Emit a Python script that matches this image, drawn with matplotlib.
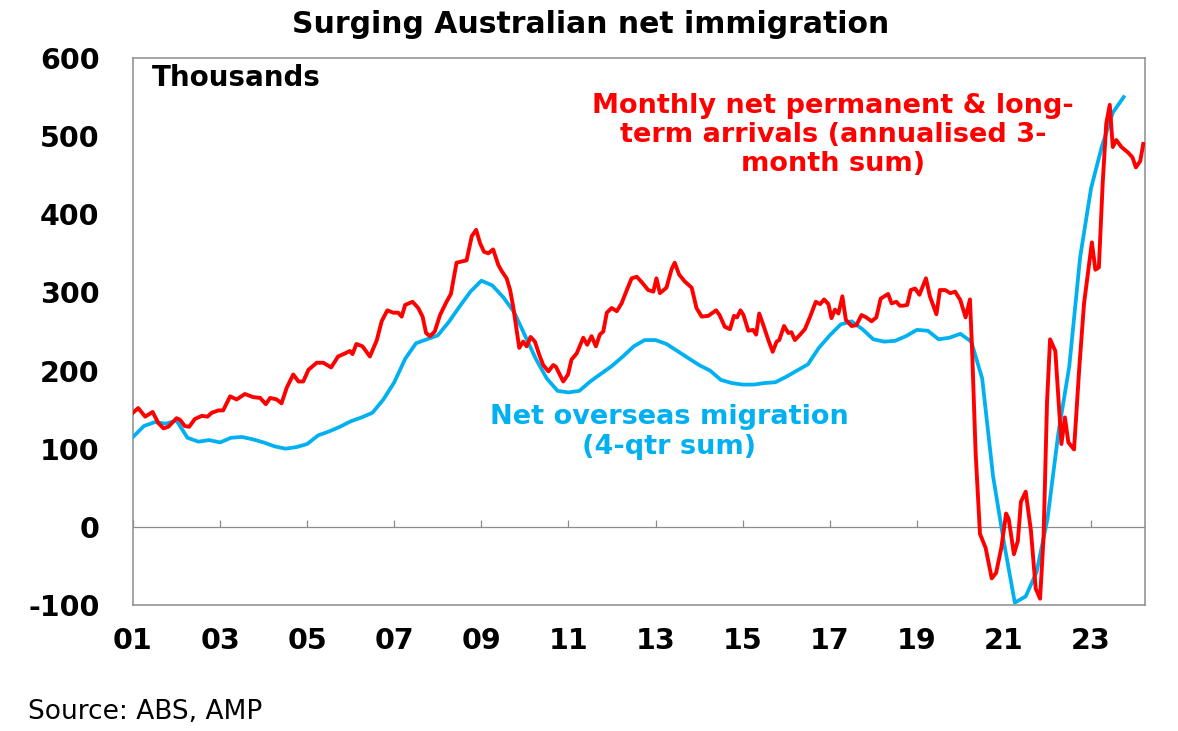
import numpy as np
import matplotlib
matplotlib.use("Agg")
import matplotlib.pyplot as plt

plt.rcParams["axes.unicode_minus"] = False

# ---------------------------------------------------------------------------
# Data (thousands)
# ---------------------------------------------------------------------------

# Monthly net permanent & long-term arrivals (annualised 3-month sum)
arrivals_year = [
    2001.00, 2001.12, 2001.28, 2001.45, 2001.58, 2001.70, 2001.81, 2002.00,
    2002.08, 2002.19, 2002.29, 2002.42, 2002.58, 2002.71, 2002.81, 2002.96,
    2003.07, 2003.23, 2003.38, 2003.57, 2003.76, 2003.92, 2004.05, 2004.15,
    2004.30, 2004.41, 2004.53, 2004.68, 2004.80, 2004.91, 2005.03, 2005.22,
    2005.37, 2005.55, 2005.71, 2005.87, 2005.98, 2006.04, 2006.13, 2006.27,
    2006.44, 2006.60, 2006.71, 2006.84, 2006.98, 2007.09, 2007.17, 2007.25,
    2007.42, 2007.55, 2007.65, 2007.73, 2007.82, 2007.93, 2008.05, 2008.20,
    2008.30, 2008.43, 2008.58, 2008.66, 2008.78, 2008.88, 2008.97, 2009.06,
    2009.16, 2009.27, 2009.39, 2009.47, 2009.58, 2009.66, 2009.73, 2009.81,
    2009.87, 2009.96, 2010.04, 2010.13, 2010.23, 2010.33, 2010.42, 2010.54,
    2010.65, 2010.71, 2010.80, 2010.88, 2010.99, 2011.07, 2011.19, 2011.34,
    2011.43, 2011.53, 2011.63, 2011.72, 2011.80, 2011.88, 2011.99, 2012.11,
    2012.22, 2012.34, 2012.45, 2012.57, 2012.70, 2012.83, 2012.95, 2013.02,
    2013.10, 2013.25, 2013.37, 2013.44, 2013.54, 2013.67, 2013.83, 2013.94,
    2014.06, 2014.21, 2014.39, 2014.47, 2014.59, 2014.71, 2014.80, 2014.87,
    2014.95, 2015.02, 2015.13, 2015.24, 2015.31, 2015.38, 2015.47, 2015.59,
    2015.69, 2015.78, 2015.84, 2015.95, 2016.05, 2016.12, 2016.20, 2016.32,
    2016.43, 2016.55, 2016.68, 2016.78, 2016.87, 2016.97, 2017.04, 2017.12,
    2017.20, 2017.29, 2017.37, 2017.50, 2017.61, 2017.73, 2017.84, 2017.96,
    2018.07, 2018.17, 2018.34, 2018.42, 2018.53, 2018.61, 2018.69, 2018.78,
    2018.86, 2018.96, 2019.06, 2019.21, 2019.30, 2019.45, 2019.53, 2019.65,
    2019.77, 2019.88, 2020.00, 2020.12, 2020.22, 2020.27, 2020.35, 2020.45,
    2020.58, 2020.72, 2020.82, 2020.94, 2021.05, 2021.11, 2021.23, 2021.32,
    2021.39, 2021.50, 2021.62, 2021.73, 2021.83, 2021.91, 2021.99, 2022.06,
    2022.18, 2022.26, 2022.32, 2022.40, 2022.48, 2022.61, 2022.73, 2022.84,
    2022.92, 2023.02, 2023.10, 2023.18, 2023.27, 2023.35, 2023.43, 2023.50,
    2023.58, 2023.70, 2023.85, 2023.95, 2024.03, 2024.13, 2024.20,
]
arrivals_value = [
    146, 152, 141, 147, 133, 126, 128, 139,
    137, 129, 128, 138, 142, 141, 146, 149,
    149, 167, 163, 170, 166, 165, 157, 165,
    163, 158, 178, 195, 186, 186, 201, 210,
    210, 204, 218, 222, 225, 221, 234, 231,
    218, 239, 263, 277, 274, 274, 269, 284,
    288, 280, 269, 248, 244, 250, 271, 288,
    298, 338, 340, 341, 372, 380, 363, 352,
    350, 355, 335, 327, 318, 303, 282, 252,
    229, 237, 231, 243, 237, 220, 207, 199,
    207, 205, 195, 186, 195, 214, 222, 242,
    233, 244, 231, 246, 250, 274, 280, 276,
    286, 303, 318, 320, 312, 303, 301, 318,
    299, 306, 330, 338, 323, 314, 306, 280,
    269, 270, 277, 271, 256, 253, 270, 268,
    277, 271, 251, 252, 246, 273, 259, 239,
    224, 237, 239, 257, 248, 249, 239, 246,
    253, 269, 288, 285, 291, 285, 267, 278,
    273, 295, 265, 257, 258, 271, 268, 263,
    268, 292, 298, 286, 288, 283, 283, 284,
    303, 305, 297, 318, 295, 272, 303, 303,
    299, 301, 290, 268, 291, 225, 95, -9,
    -27, -66, -59, -27, 17, 10, -35, -18,
    32, 45, -5, -79, -92, -14, 160, 240,
    225, 156, 106, 140, 108, 99, 203, 286,
    321, 364, 329, 332, 442, 516, 540, 486,
    495, 486, 479, 473, 460, 468, 490,
]

# Net overseas migration (4-qtr sum), quarterly from 2001 Q1
nom_start = 2001.0
nom_value = [
    115, 129, 134, 132, 136, 114, 109, 111,   # 2001-02
    108, 114, 115, 112, 108, 103, 100, 102,   # 2003-04
    106, 117, 122, 128, 135, 140, 146, 163,   # 2005-06
    185, 215, 235, 240, 245, 262, 282, 301,   # 2007-08
    315, 309, 294, 275, 245, 215, 190, 174,   # 2009-10
    172, 174, 186, 196, 206, 218, 231, 239,   # 2011-12
    239, 234, 225, 216, 207, 200, 188, 184,   # 2013-14
    182, 182, 184, 185, 192, 200, 208, 229,   # 2015-16
    245, 259, 263, 253, 240, 237, 238, 244,   # 2017-18
    252, 251, 240, 242, 247, 237, 190, 65,    # 2019-20
    -20, -97, -89, -58, 10, 120, 205, 345,    # 2021-22
    433, 487, 530, 550,                       # 2023
]
nom_year = nom_start + np.arange(len(nom_value)) / 4.0

x_ticks = list(range(2001, 2024, 2))
x_tick_labels = [f"{y % 100:02d}" for y in x_ticks]
y_ticks = [-100, 0, 100, 200, 300, 400, 500, 600]

RED = "#FF0000"
BLUE = "#00B0F0"
GREY = "#8C8C8C"
FONT = "DejaVu Sans"

# ---------------------------------------------------------------------------
# Figure
# ---------------------------------------------------------------------------

fig = plt.figure(figsize=(11.78, 7.31), dpi=100)
ax = fig.add_axes([0.1129, 0.1724, 0.8591, 0.7483])

ax.axhline(0, color=GREY, lw=0.9, zorder=1)
ax.vlines(x_ticks, 0, 9, color=GREY, lw=0.9, zorder=1)

ax.plot(nom_year, nom_value, color=BLUE, lw=2.7, zorder=3,
        solid_joinstyle="round")
ax.plot(arrivals_year, arrivals_value, color=RED, lw=2.8, zorder=4,
        solid_joinstyle="round")

ax.set_xlim(2001.0, 2024.24)
ax.set_ylim(-100, 600)

ax.set_xticks(x_ticks)
ax.set_xticklabels(x_tick_labels)
ax.set_yticks(y_ticks)
ax.tick_params(axis="both", length=0, labelsize=20.5)
ax.tick_params(axis="x", pad=16)
ax.tick_params(axis="y", pad=24)
for lab in ax.get_xticklabels() + ax.get_yticklabels():
    lab.set_fontweight("bold")
    lab.set_family(FONT)

for side in ax.spines.values():
    side.set_color(GREY)
    side.set_linewidth(1.1)

ax.text(0.019, 0.963, "Thousands", transform=ax.transAxes, ha="left",
        va="center", fontsize=20, fontweight="bold", family=FONT)

ax.text(2017.07, 502, "Monthly net permanent & long-\nterm arrivals (annualised 3-\nmonth sum)",
        ha="center", va="center", color=RED, fontsize=19.5, fontweight="bold",
        family=FONT, linespacing=1.15)

ax.text(2013.31, 121, "Net overseas migration\n(4-qtr sum)",
        ha="center", va="center", color=BLUE, fontsize=19.5, fontweight="bold",
        family=FONT, linespacing=1.2)

fig.text(0.501, 0.966, "Surging Australian net immigration", ha="center",
         va="center", fontsize=21.5, fontweight="bold", family=FONT)

fig.text(0.024, 0.026, "Source: ABS, AMP", ha="left", va="center",
         fontsize=19, family=FONT)

fig.savefig("out.png", dpi=100)
plt.close(fig)
